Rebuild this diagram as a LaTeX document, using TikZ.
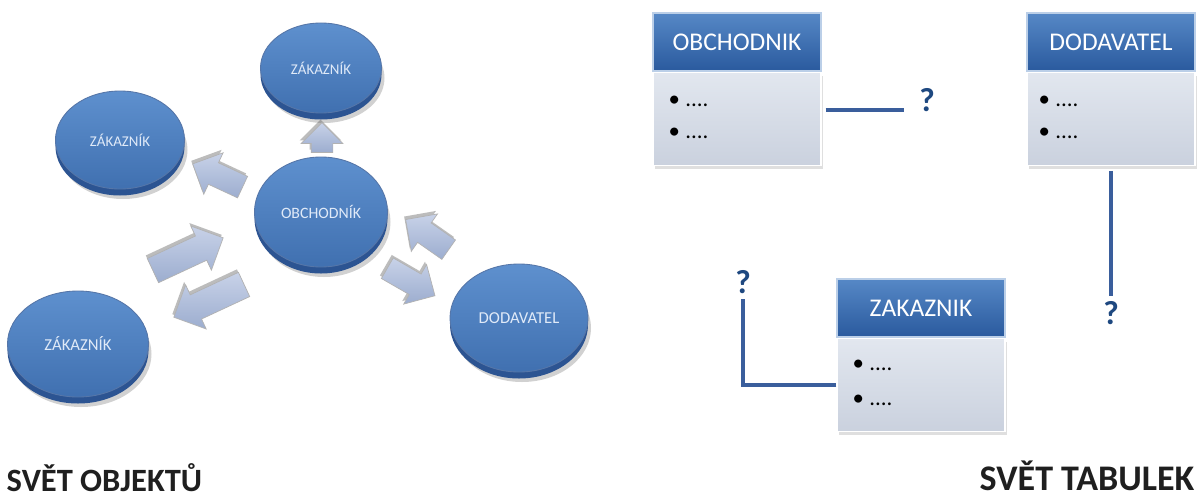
\documentclass[tikz,border=0pt]{standalone}
\usepackage{fontspec}
\setmainfont{Carlito}
\usetikzlibrary{shapes.geometric, shapes.arrows, positioning, shadows}

\definecolor{discTop}{RGB}{94,144,206}
\definecolor{discBot}{RGB}{64,112,176}
\definecolor{discRim}{RGB}{44,84,146}
\definecolor{discText}{RGB}{224,234,248}
\definecolor{arrTop}{RGB}{200,210,232}
\definecolor{arrBot}{RGB}{156,173,207}
\definecolor{headTop}{RGB}{86,136,198}
\definecolor{headBot}{RGB}{42,90,158}
\definecolor{bodyTop}{RGB}{226,231,239}
\definecolor{bodyBot}{RGB}{202,209,222}
\definecolor{linkBlue}{RGB}{58,94,156}
\definecolor{askBlue}{RGB}{30,72,128}

\begin{document}
\begin{tikzpicture}[x=0.2mm, y=-0.2mm, thick]
        \tikzstyle{disc} = [ellipse, inner sep=0pt, top color=discTop, bottom color=discBot, draw=discRim!80, line width=0.5pt, text=discText, font=\fontsize{8.5}{9}\selectfont, general shadow={fill=black, opacity=0.18, shadow xshift=0.6mm, shadow yshift=-2mm}, general shadow={fill=discRim, shadow yshift=-1.3mm}]
        \tikzstyle{flow} = [single arrow, draw=gray!60, line width=0.4pt, top color=arrTop, bottom color=arrBot, inner xsep=0pt, inner ysep=2.6mm, single arrow head extend=2.2mm, single arrow head indent=0pt, general shadow={fill=black!65, opacity=0.4, shadow xshift=-0.3mm, shadow yshift=0.6mm}]
        \tikzstyle{thead} = [rectangle, minimum width=33.6mm, minimum height=11.6mm, top color=headTop, bottom color=headBot, draw=headTop!40, line width=0.6pt, text=white, font=\fontsize{14.5}{16}\selectfont]
        \tikzstyle{tbody} = [rectangle, minimum width=33.6mm, minimum height=18.6mm, top color=bodyTop, bottom color=bodyBot, draw=white, line width=0.8pt, drop shadow={opacity=0.25, shadow xshift=0.3mm, shadow yshift=-0.8mm}]
        \tikzstyle{item} = [anchor=base west, inner sep=0pt, font=\fontsize{13}{14}\selectfont]
        \tikzstyle{ask} = [inner sep=1pt, text=askBlue, font=\bfseries\fontsize{19}{20}\selectfont]
        \tikzstyle{link} = [draw=linkBlue, line width=2.2pt]
        \tikzstyle{title} = [inner sep=0pt, text=black!88, font=\bfseries\fontsize{18.5}{20}\selectfont]

        \fill[white] (0,0) rectangle (1200,500);
        \useasboundingbox (0,0) rectangle (1200,500);

        % Svet objektu - kotouce
        \node [disc, minimum width=24.2mm, minimum height=18mm] (objZakTop) at (321,68) {ZÁKAZNÍK};
        \node [disc, minimum width=25.8mm, minimum height=19.6mm] (objZakLeft) at (120,140) {ZÁKAZNÍK};
        \node [disc, minimum width=26.6mm, minimum height=22mm, font=\fontsize{9}{10}\selectfont] (objObch) at (321,212) {OBCHODNÍK};
        \node [disc, minimum width=28.2mm, minimum height=21.2mm, font=\fontsize{9.5}{10}\selectfont] (objZakBot) at (78,344) {ZÁKAZNÍK};
        \node [disc, minimum width=27.6mm, minimum height=21.6mm, font=\fontsize{9.5}{10}\selectfont] (objDod) at (519,318) {DODAVATEL};

        % Blokove sipky mezi kotouci
        \node [flow, rotate=90, minimum height=6mm, inner ysep=2.1mm, single arrow head extend=2mm] (flowUp) at (322,143) {};
        \node [flow, rotate=155, minimum height=11mm, inner ysep=2.3mm] (flowLeft) at (223,178) {};
        \node [flow, rotate=25, minimum height=15.5mm] (flowIn) at (182,257) {};
        \node [flow, rotate=205, minimum height=15.5mm] (flowOut) at (215,298) {};
        \node [flow, rotate=145, minimum height=10.5mm, inner ysep=2.3mm] (flowDodIn) at (432,238) {};
        \node [flow, rotate=-30, minimum height=11mm, inner ysep=2.3mm] (flowDodOut) at (406,279) {};

        % Svet tabulek - tabulky
        \node [thead] (tabObch) at (737,42) {OBCHODNIK};
        \node [tbody, below=0pt of tabObch] (tabObchB) {};
        \node [thead] (tabDod) at (1111,42) {DODAVATEL};
        \node [tbody, below=0pt of tabDod] (tabDodB) {};
        \node [thead] (tabZak) at (921,308) {ZAKAZNIK};
        \node [tbody, below=0pt of tabZak] (tabZakB) {};

        % Polozky tabulek
        \node [item] (obchI1) at (668,106) {•\hspace{3pt}....};
        \node [item] (obchI2) at (668,138) {•\hspace{3pt}....};
        \node [item] (dodI1) at (1038,106) {•\hspace{3pt}....};
        \node [item] (dodI2) at (1038,138) {•\hspace{3pt}....};
        \node [item] (zakI1) at (852,370) {•\hspace{3pt}....};
        \node [item] (zakI2) at (852,405) {•\hspace{3pt}....};

        % Nezname vazby
        \node [ask] (askObch) at (927,100) {?};
        \node [ask] (askDod) at (1111,313) {?};
        \node [ask] (askZak) at (743,282) {?};
        \coordinate (endObch) at (904,110);
        \draw [link, shorten <=0.8mm] (tabObchB.east |- endObch) -- (endObch);
        \draw [link, shorten <=1mm, shorten >=0.6mm] (tabDodB.south) -- (askDod.north);
        \draw [link, shorten >=0.6mm] (tabZakB.west) -| (askZak.south);

        % Nadpisy
        \node [title, anchor=base west] (titObj) at (6,491) {SVĚT OBJEKTŮ};
        \node [title, anchor=base east, font=\bfseries\fontsize{20.5}{22}\selectfont] (titTab) at (1195,490) {SVĚT TABULEK};
\end{tikzpicture}
\end{document}
